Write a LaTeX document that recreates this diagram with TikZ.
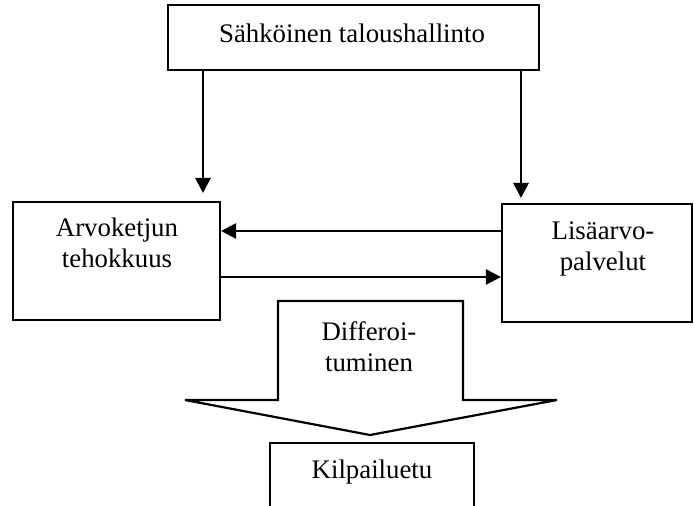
\documentclass[tikz,border=0pt]{standalone}
\usepackage{fontspec}
\setmainfont{Liberation Serif}
\usetikzlibrary{arrows.meta}
\begin{document}
\begin{tikzpicture}[x=0.5pt,y=-0.5pt,
  box/.style={draw, line width=1.1pt, inner sep=0pt},
  txt/.style={font=\fontsize{13.4pt}{15.5pt}\selectfont, align=center, inner sep=0pt, anchor=base},
  link/.style={line width=1.4pt, -{Triangle[length=7.5pt,width=7.5pt]}}]
\useasboundingbox (0,0) rectangle (694,506);
\clip (0,0) rectangle (694,506);
% boxes
\node[box, minimum width=185.5pt, minimum height=32.5pt] (sahko) at (353.5,37.5) {};
\node[box, minimum width=103.5pt, minimum height=59pt] (arvo) at (116.5,261) {};
\node[box, minimum width=95pt, minimum height=59pt] (lisa) at (597,263) {};
\node[box, minimum width=102pt, minimum height=43.5pt] (kilp) at (372,486.5) {};
% texts (base anchor sits on the last line)
\node[txt] at (352,43) {Sähköinen taloushallinto};
\node[txt] at (117,268) {Arvoketjun\\tehokkuus};
\node[txt] at (603,271) {Lisäarvo-\\palvelut};
\node[txt] at (369,372) {Differoi-\\tuminen};
\node[txt] at (372,478) {Kilpailuetu};
% broad down arrow
\draw[line width=1.1pt, line join=miter] (278,301) -- (463,301) -- (463,400) -- (557,400)
  -- (370,435) -- (185,400) -- (278,400) -- cycle;
% connectors
\coordinate (tipL) at (203,193);
\coordinate (tipR) at (521,198);
\draw[link] (sahko.south -| tipL) -- (tipL);
\draw[link] (sahko.south -| tipR) -- (tipR);
\draw[link] (lisa.west |- 0,231) -- (arvo.east |- 0,231);
\draw[link] (arvo.east |- 0,277) -- (lisa.west |- 0,277);
\end{tikzpicture}
\end{document}
